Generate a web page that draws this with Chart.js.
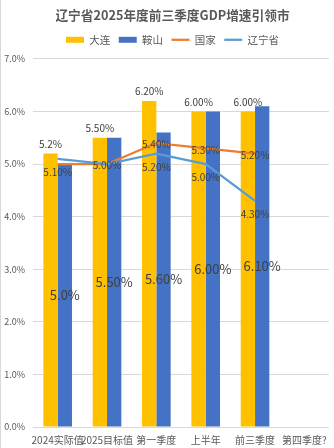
<!DOCTYPE html>
<html><head><meta charset="utf-8">
<script src="https://cdn.jsdelivr.net/npm/chart.js@4.4.1/dist/chart.umd.min.js"></script>
<style>
html,body{margin:0;padding:0;background:#fff;}
#wrap{position:relative;width:334px;height:448px;overflow:hidden;}
#edge{position:absolute;left:0;top:0;width:1px;height:448px;background:#d9d9d9;}
</style></head><body>
<div id="wrap"><canvas id="c" width="334" height="448"></canvas><div id="edge"></div></div>
<script>
const categories = ['2024实际值', '2025目标值', '第一季度', '上半年', '前三季度', '第四季度?'];
const dalian = [5.2, 5.5, 6.2, 6.0, 6.0, null];
const anshan = [5.0, 5.5, 5.6, 6.0, 6.1, null];
const national = [5.0, 5.0, 5.4, 5.3, 5.2, null];
const liaoning = [5.1, 5.0, 5.2, 5.0, 4.3, null];
const dalianLabels = ['5.2%', '5.50%', '6.20%', '6.00%', '6.00%', null];
const anshanLabels = ['5.0%', '5.50%', '5.60%', '6.00%', '6.10%', null];
const nationalLabels = [null, '5.00%', '5.40%', '5.30%', '5.20%', null];
const liaoningLabels = ['5.10%', null, '5.20%', '5.00%', '4.30%', null];
const yMin = 0, yMax = 7, yStep = 1;

const FONT = '"Microsoft YaHei","Noto Sans CJK SC","Noto Sans",sans-serif';

const labelPlugin = {
  id: 'valueLabels',
  afterLayout(chart) {
    // widen the y scale's label clip area to the canvas edge
    if (chart.scales.y) chart.scales.y.left = 0;
  },
  afterDatasetsDraw(chart) {
    const ctx = chart.ctx;
    chart.data.datasets.forEach((ds, di) => {
      const meta = chart.getDatasetMeta(di);
      if (meta.hidden || !ds.valueLabels) return;
      meta.data.forEach((el, i) => {
        const txt = ds.valueLabels[i];
        if (!txt) return;
        let y;
        if (ds.labelMode === 'above') y = el.y - 9.5;
        else if (ds.labelMode === 'center') y = (el.y + el.base) / 2;
        else if (ds.labelMode === 'below') y = el.y + 13.5;
        else y = el.y + 1.5;
        ctx.save();
        ctx.font = ds.labelFontSize + 'px ' + FONT;
        ctx.fillStyle = '#404040';
        ctx.textAlign = 'center';
        ctx.textBaseline = 'middle';
        ctx.fillText(txt, el.x, y);
        ctx.restore();
      });
    });
  }
};

new Chart(document.getElementById('c'), {
  type: 'bar',
  data: {
    labels: categories,
    datasets: [
      { type: 'bar', label: '大连', data: dalian, backgroundColor: '#FFC000', borderWidth: 0, order: 3,
        pointStyle: 'rect', valueLabels: dalianLabels, labelMode: 'above', labelFontSize: 10 },
      { type: 'bar', label: '鞍山', data: anshan, backgroundColor: '#4472C4', borderWidth: 0, order: 3,
        pointStyle: 'rect', valueLabels: anshanLabels, labelMode: 'center', labelFontSize: 13 },
      { type: 'line', label: '国家', data: national, borderColor: '#ED7D31', backgroundColor: '#ED7D31',
        borderWidth: 2.25, pointRadius: 0, pointHoverRadius: 0, pointStyle: 'line', tension: 0, order: 2,
        valueLabels: nationalLabels, labelMode: 'on', labelFontSize: 10 },
      { type: 'line', label: '辽宁省', data: liaoning, borderColor: '#5B9BD5', backgroundColor: '#5B9BD5',
        borderWidth: 2.25, pointRadius: 0, pointHoverRadius: 0, pointStyle: 'line', tension: 0, order: 1,
        valueLabels: liaoningLabels, labelMode: 'below', labelFontSize: 10 }
    ]
  },
  options: {
    responsive: false,
    animation: false,
    devicePixelRatio: 1,
    layout: { padding: { left: 14, right: 3, top: 0, bottom: 0 } },
    datasets: { bar: { categoryPercentage: 0.58, barPercentage: 1.0 } },
    plugins: {
      tooltip: { enabled: false },
      title: { display: true, text: '辽宁省2025年度前三季度GDP增速引领市', color: '#595959',
        font: { family: FONT, size: 12.7, weight: 'bold' }, padding: { top: 7.9, bottom: 2.9 } },
      legend: { display: true, position: 'top', weight: 1000,
        labels: { usePointStyle: true, pointStyleWidth: 18, boxHeight: 6, padding: 8.5, color: '#595959',
          font: { family: FONT, size: 10.5 },
          sort: (a, b) => a.datasetIndex - b.datasetIndex } },
      subtitle: { display: true, text: '', weight: 500, position: 'top',
        font: { size: 1, lineHeight: 1 }, padding: { top: 2.85, bottom: 0 } }
    },
    scales: {
      x: {
        grid: { display: false, drawTicks: false },
        border: { display: false },
        ticks: { color: '#595959', font: { family: FONT, size: 10 }, padding: 7,
          maxRotation: 0, minRotation: 0, autoSkip: false },
        afterFit(s) { s.height = 21; }
      },
      y: {
        min: yMin, max: yMax,
        grid: { color: '#d9d9d9', lineWidth: 1, drawTicks: false },
        border: { display: false },
        ticks: { stepSize: yStep, color: '#595959', font: { family: FONT, size: 9 }, padding: 8,
          callback: v => v.toFixed(1) + '%' },
        afterFit(s) { s.width = 19; }
      }
    }
  },
  plugins: [labelPlugin]
});
</script>
</body></html>
